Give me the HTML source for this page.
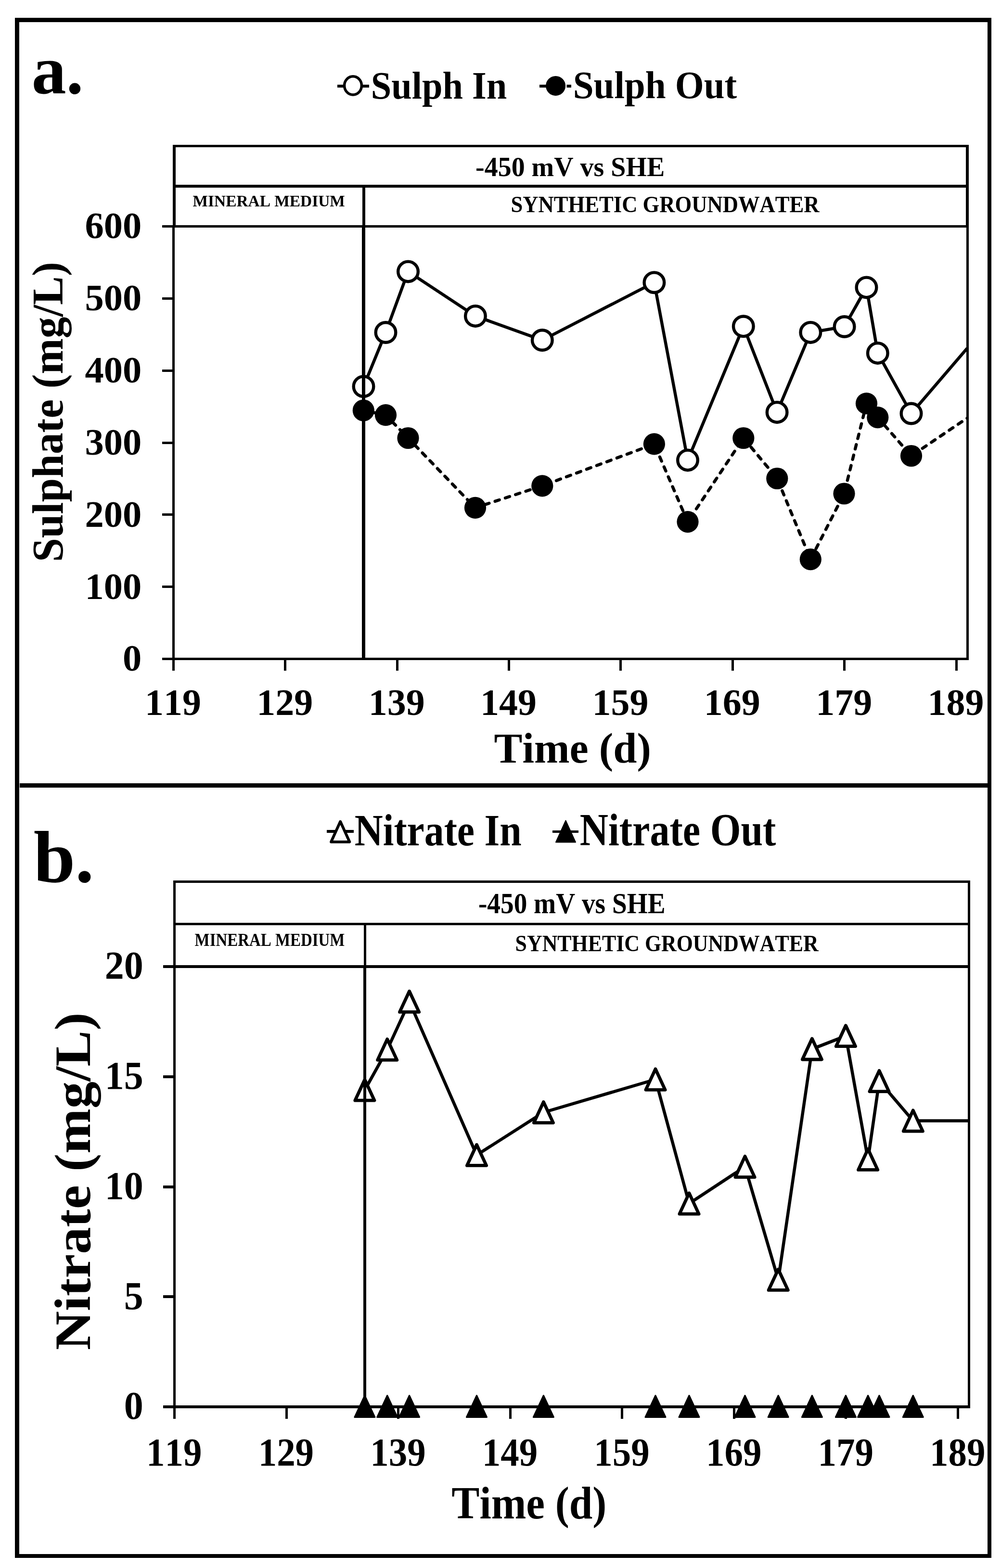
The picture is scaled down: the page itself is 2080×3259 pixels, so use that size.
<!DOCTYPE html>
<html><head><meta charset="utf-8"><title>Sulphate and Nitrate</title>
<style>html,body{margin:0;padding:0;background:#fff}svg{display:block}</style>
</head><body>
<svg width="2080" height="3259" viewBox="0 0 2080 3259">
<rect width="2080" height="3259" fill="#fff"/>
<g fill="#000" stroke="none">
<rect x="31" y="37" width="2029" height="9"/>
<rect x="31" y="3230" width="2029" height="8"/>
<rect x="31" y="37" width="9" height="3201"/>
<rect x="2052" y="37" width="8" height="3201"/>
<rect x="41" y="1628" width="2011" height="9"/>
<rect x="359" y="301" width="1654" height="5"/>
<rect x="359" y="301" width="6" height="169"/>
<rect x="2007" y="301" width="6" height="169"/>
<rect x="359" y="384" width="1654" height="6"/>
<rect x="753" y="387" width="6" height="83"/>
<rect x="337" y="468" width="1676" height="5"/>
<rect x="358" y="468" width="5" height="926"/>
<rect x="2008" y="468" width="5" height="904"/>
<rect x="337" y="1367" width="1676" height="5"/>
<rect x="337" y="1367" width="23" height="5"/>
<rect x="337" y="1217" width="23" height="5"/>
<rect x="337" y="1067" width="23" height="5"/>
<rect x="337" y="918" width="23" height="5"/>
<rect x="337" y="768" width="23" height="5"/>
<rect x="337" y="618" width="23" height="5"/>
<rect x="337" y="468" width="23" height="5"/>
<rect x="358" y="1369" width="5" height="25"/>
<rect x="590" y="1369" width="5" height="25"/>
<rect x="823" y="1369" width="5" height="25"/>
<rect x="1055" y="1369" width="5" height="25"/>
<rect x="1287" y="1369" width="5" height="25"/>
<rect x="1520" y="1369" width="5" height="25"/>
<rect x="1752" y="1369" width="5" height="25"/>
<rect x="1985" y="1369" width="5" height="25"/>
<rect x="360" y="1830" width="1656" height="5"/>
<rect x="360" y="1830" width="5" height="179"/>
<rect x="2011" y="1830" width="5" height="179"/>
<rect x="360" y="1918" width="1656" height="5"/>
<rect x="756" y="1920" width="5" height="89"/>
<rect x="339" y="2006" width="1677" height="6"/>
<rect x="360" y="2009" width="5" height="940"/>
<rect x="2011" y="2009" width="5" height="918"/>
<rect x="339" y="2921" width="1677" height="6"/>
<rect x="339" y="2921" width="23" height="6"/>
<rect x="339" y="2692" width="23" height="6"/>
<rect x="339" y="2464" width="23" height="6"/>
<rect x="339" y="2235" width="23" height="6"/>
<rect x="339" y="2006" width="23" height="6"/>
<rect x="360" y="2924" width="5" height="25"/>
<rect x="593" y="2924" width="5" height="25"/>
<rect x="825" y="2924" width="5" height="25"/>
<rect x="1058" y="2924" width="5" height="25"/>
<rect x="1290" y="2924" width="5" height="25"/>
<rect x="1523" y="2924" width="5" height="25"/>
<rect x="1755" y="2924" width="5" height="25"/>
<rect x="1988" y="2924" width="5" height="25"/>
</g>
<defs><clipPath id="ca"><rect x="363" y="473" width="1645" height="894"/></clipPath><clipPath id="cb"><rect x="365" y="2012" width="1646" height="909"/></clipPath></defs>
<g clip-path="url(#ca)">
<polyline points="755.5,803.2 801.5,691 848,564.4 987.9,656.9 1126.8,707 1359.4,587.2 1429,956.4 1544.8,678.3 1614.6,856.9 1684.3,690.9 1754.6,679 1800.5,597.4 1823.8,733.9 1893.5,859.5 2009.8,723.8" fill="none" stroke="#000" stroke-width="6.4" stroke-linejoin="round"/>
<polyline points="755.3,853 801.5,862.7 848,910.5 987.5,1055.4 1126.8,1009.8 1359.4,922.9 1429,1084.6 1544.8,910.5 1614.8,994.5 1684.3,1162.6 1754,1026 1800.5,838.6 1823.8,867.6 1893.5,947.5 2009.8,869" fill="none" stroke="#000" stroke-width="6.4" stroke-dasharray="9.4 13" stroke-linecap="round" stroke-linejoin="round"/>
</g>
<circle cx="755.5" cy="803.2" r="20.8" fill="#fff" stroke="#000" stroke-width="6.4"/>
<circle cx="801.5" cy="691" r="20.8" fill="#fff" stroke="#000" stroke-width="6.4"/>
<circle cx="848" cy="564.4" r="20.8" fill="#fff" stroke="#000" stroke-width="6.4"/>
<circle cx="987.9" cy="656.9" r="20.8" fill="#fff" stroke="#000" stroke-width="6.4"/>
<circle cx="1126.8" cy="707" r="20.8" fill="#fff" stroke="#000" stroke-width="6.4"/>
<circle cx="1359.4" cy="587.2" r="20.8" fill="#fff" stroke="#000" stroke-width="6.4"/>
<circle cx="1429" cy="956.4" r="20.8" fill="#fff" stroke="#000" stroke-width="6.4"/>
<circle cx="1544.8" cy="678.3" r="20.8" fill="#fff" stroke="#000" stroke-width="6.4"/>
<circle cx="1614.6" cy="856.9" r="20.8" fill="#fff" stroke="#000" stroke-width="6.4"/>
<circle cx="1684.3" cy="690.9" r="20.8" fill="#fff" stroke="#000" stroke-width="6.4"/>
<circle cx="1754.6" cy="679" r="20.8" fill="#fff" stroke="#000" stroke-width="6.4"/>
<circle cx="1800.5" cy="597.4" r="20.8" fill="#fff" stroke="#000" stroke-width="6.4"/>
<circle cx="1823.8" cy="733.9" r="20.8" fill="#fff" stroke="#000" stroke-width="6.4"/>
<circle cx="1893.5" cy="859.5" r="20.8" fill="#fff" stroke="#000" stroke-width="6.4"/>
<circle cx="755.3" cy="853" r="22.6" fill="#000"/>
<circle cx="801.5" cy="862.7" r="22.6" fill="#000"/>
<circle cx="848" cy="910.5" r="22.6" fill="#000"/>
<circle cx="987.5" cy="1055.4" r="22.6" fill="#000"/>
<circle cx="1126.8" cy="1009.8" r="22.6" fill="#000"/>
<circle cx="1359.4" cy="922.9" r="22.6" fill="#000"/>
<circle cx="1429" cy="1084.6" r="22.6" fill="#000"/>
<circle cx="1544.8" cy="910.5" r="22.6" fill="#000"/>
<circle cx="1614.8" cy="994.5" r="22.6" fill="#000"/>
<circle cx="1684.3" cy="1162.6" r="22.6" fill="#000"/>
<circle cx="1754" cy="1026" r="22.6" fill="#000"/>
<circle cx="1800.5" cy="838.6" r="22.6" fill="#000"/>
<circle cx="1823.8" cy="867.6" r="22.6" fill="#000"/>
<circle cx="1893.5" cy="947.5" r="22.6" fill="#000"/>
<polyline points="757.9,2265.6 804.7,2181.5 850.6,2081.8 990.5,2400.8 1129.4,2312 1362,2243.5 1432,2501.5 1548,2425 1617.2,2659.8 1687.4,2180.4 1757.4,2153.1 1803.6,2409.8 1827,2247 1897.3,2329.5 2011,2329.5" fill="none" stroke="#000" stroke-width="6.5" stroke-linejoin="round"/>
<polygon points="757.90,2244.00 778.00,2287.20 737.80,2287.20" fill="#fff" stroke="#000" stroke-width="6.8" stroke-linejoin="round"/>
<polygon points="804.70,2159.90 824.80,2203.10 784.60,2203.10" fill="#fff" stroke="#000" stroke-width="6.8" stroke-linejoin="round"/>
<polygon points="850.60,2060.20 870.70,2103.40 830.50,2103.40" fill="#fff" stroke="#000" stroke-width="6.8" stroke-linejoin="round"/>
<polygon points="990.50,2379.20 1010.60,2422.40 970.40,2422.40" fill="#fff" stroke="#000" stroke-width="6.8" stroke-linejoin="round"/>
<polygon points="1129.40,2290.40 1149.50,2333.60 1109.30,2333.60" fill="#fff" stroke="#000" stroke-width="6.8" stroke-linejoin="round"/>
<polygon points="1362.00,2221.90 1382.10,2265.10 1341.90,2265.10" fill="#fff" stroke="#000" stroke-width="6.8" stroke-linejoin="round"/>
<polygon points="1432.00,2479.90 1452.10,2523.10 1411.90,2523.10" fill="#fff" stroke="#000" stroke-width="6.8" stroke-linejoin="round"/>
<polygon points="1548.00,2403.40 1568.10,2446.60 1527.90,2446.60" fill="#fff" stroke="#000" stroke-width="6.8" stroke-linejoin="round"/>
<polygon points="1617.20,2638.20 1637.30,2681.40 1597.10,2681.40" fill="#fff" stroke="#000" stroke-width="6.8" stroke-linejoin="round"/>
<polygon points="1687.40,2158.80 1707.50,2202.00 1667.30,2202.00" fill="#fff" stroke="#000" stroke-width="6.8" stroke-linejoin="round"/>
<polygon points="1757.40,2131.50 1777.50,2174.70 1737.30,2174.70" fill="#fff" stroke="#000" stroke-width="6.8" stroke-linejoin="round"/>
<polygon points="1803.60,2388.20 1823.70,2431.40 1783.50,2431.40" fill="#fff" stroke="#000" stroke-width="6.8" stroke-linejoin="round"/>
<polygon points="1827.00,2225.40 1847.10,2268.60 1806.90,2268.60" fill="#fff" stroke="#000" stroke-width="6.8" stroke-linejoin="round"/>
<polygon points="1897.30,2307.90 1917.40,2351.10 1877.20,2351.10" fill="#fff" stroke="#000" stroke-width="6.8" stroke-linejoin="round"/>
<polygon points="757.90,2900.50 778.90,2945.50 736.90,2945.50" fill="#000" stroke="#000" stroke-width="3" stroke-linejoin="round"/>
<polygon points="804.70,2900.50 825.70,2945.50 783.70,2945.50" fill="#000" stroke="#000" stroke-width="3" stroke-linejoin="round"/>
<polygon points="850.60,2900.50 871.60,2945.50 829.60,2945.50" fill="#000" stroke="#000" stroke-width="3" stroke-linejoin="round"/>
<polygon points="990.50,2900.50 1011.50,2945.50 969.50,2945.50" fill="#000" stroke="#000" stroke-width="3" stroke-linejoin="round"/>
<polygon points="1129.40,2900.50 1150.40,2945.50 1108.40,2945.50" fill="#000" stroke="#000" stroke-width="3" stroke-linejoin="round"/>
<polygon points="1362.00,2900.50 1383.00,2945.50 1341.00,2945.50" fill="#000" stroke="#000" stroke-width="3" stroke-linejoin="round"/>
<polygon points="1432.00,2900.50 1453.00,2945.50 1411.00,2945.50" fill="#000" stroke="#000" stroke-width="3" stroke-linejoin="round"/>
<polygon points="1548.00,2900.50 1569.00,2945.50 1527.00,2945.50" fill="#000" stroke="#000" stroke-width="3" stroke-linejoin="round"/>
<polygon points="1617.20,2900.50 1638.20,2945.50 1596.20,2945.50" fill="#000" stroke="#000" stroke-width="3" stroke-linejoin="round"/>
<polygon points="1687.40,2900.50 1708.40,2945.50 1666.40,2945.50" fill="#000" stroke="#000" stroke-width="3" stroke-linejoin="round"/>
<polygon points="1757.40,2900.50 1778.40,2945.50 1736.40,2945.50" fill="#000" stroke="#000" stroke-width="3" stroke-linejoin="round"/>
<polygon points="1803.60,2900.50 1824.60,2945.50 1782.60,2945.50" fill="#000" stroke="#000" stroke-width="3" stroke-linejoin="round"/>
<polygon points="1827.00,2900.50 1848.00,2945.50 1806.00,2945.50" fill="#000" stroke="#000" stroke-width="3" stroke-linejoin="round"/>
<polygon points="1897.30,2900.50 1918.30,2945.50 1876.30,2945.50" fill="#000" stroke="#000" stroke-width="3" stroke-linejoin="round"/>
<g fill="#000">
<rect x="752" y="470" width="7" height="902"/>
<rect x="755" y="2009" width="6" height="918"/>
</g>
<g stroke="#000">
<line x1="701" y1="179" x2="767" y2="179" stroke-width="6"/>
<ellipse cx="733.5" cy="177.9" rx="17.9" ry="19.1" fill="#fff" stroke-width="5.5"/>
<line x1="1121" y1="179" x2="1140" y2="179" stroke-width="6"/>
<line x1="1177.5" y1="179" x2="1187" y2="179" stroke-width="6"/>
<circle cx="1154.6" cy="178.4" r="20.5" fill="#000" stroke="none"/>
<line x1="679" y1="1728" x2="735" y2="1728" stroke-width="6"/>
<polygon points="707.20,1707.50 726.40,1749.80 688.00,1749.80" fill="#fff" stroke-width="5.7" stroke-linejoin="round"/>
<line x1="1148" y1="1728.4" x2="1202" y2="1728.4" stroke-width="5"/>
<polygon points="1175.50,1705.50 1196.00,1750.50 1155.00,1750.50" fill="#000" stroke-width="2" stroke-linejoin="round"/>
</g>
<g font-family="'Liberation Serif', 'Times New Roman', serif" font-weight="bold" fill="#000" style="font-kerning:none">
<text transform="translate(65.69,193.84) scale(1,1.0044)" font-size="143.70">a.</text>
<text transform="translate(770.80,205.00) scale(1,1.0431)" font-size="76.41">Sulph In</text>
<text transform="translate(1190.76,204.00) scale(1,1.0343)" font-size="77.06">Sulph Out</text>
<text transform="translate(988.04,365.80) scale(1,1.0049)" font-size="55.97">-450 mV vs SHE</text>
<text transform="translate(400.50,429.00) scale(1,0.9979)" font-size="33.40">MINERAL MEDIUM</text>
<text transform="translate(1061.54,440.70) scale(1,1.0760)" font-size="44.64">SYNTHETIC GROUNDWATER</text>
<text x="294.14" y="1394.40" font-size="78.5" text-anchor="end">0</text>
<text x="294.14" y="1244.57" font-size="78.5" text-anchor="end">100</text>
<text x="294.14" y="1094.73" font-size="78.5" text-anchor="end">200</text>
<text x="294.14" y="944.90" font-size="78.5" text-anchor="end">300</text>
<text x="294.14" y="795.07" font-size="78.5" text-anchor="end">400</text>
<text x="294.14" y="645.23" font-size="78.5" text-anchor="end">500</text>
<text x="294.14" y="495.40" font-size="78.5" text-anchor="end">600</text>
<text x="359.50" y="1485.9" font-size="78" text-anchor="middle">119</text>
<text x="591.86" y="1485.9" font-size="78" text-anchor="middle">129</text>
<text x="824.22" y="1485.9" font-size="78" text-anchor="middle">139</text>
<text x="1056.58" y="1485.9" font-size="78" text-anchor="middle">149</text>
<text x="1288.94" y="1485.9" font-size="78" text-anchor="middle">159</text>
<text x="1521.30" y="1485.9" font-size="78" text-anchor="middle">169</text>
<text x="1753.66" y="1485.9" font-size="78" text-anchor="middle">179</text>
<text x="1986.02" y="1485.9" font-size="78" text-anchor="middle">189</text>
<text transform="translate(1026.47,1584.60) scale(1,1.0056)" font-size="88.36">Time (d)</text>
<text transform="translate(130.00,1167.92) rotate(-90) scale(1,1.0070)" font-size="89.45">Sulphate (mg/L)</text>
<text transform="translate(69.66,1832.50) scale(1,0.9749)" font-size="155.70">b.</text>
<text transform="translate(736.77,1756.50) scale(1,1.1498)" font-size="81.66">Nitrate In</text>
<text transform="translate(1204.66,1757.00) scale(1,1.1500)" font-size="82.04">Nitrate Out</text>
<text transform="translate(993.96,1898.40) scale(1,1.0907)" font-size="55.29">-450 mV vs SHE</text>
<text transform="translate(404.61,1965.50) scale(1,1.1324)" font-size="32.92">MINERAL MEDIUM</text>
<text transform="translate(1070.59,1976.50) scale(1,1.1225)" font-size="43.87">SYNTHETIC GROUNDWATER</text>
<text transform="translate(297.70,2949.30) scale(1,1.035)" font-size="80" text-anchor="end">0</text>
<text transform="translate(297.70,2720.55) scale(1,1.035)" font-size="80" text-anchor="end">5</text>
<text transform="translate(297.70,2491.80) scale(1,1.035)" font-size="80" text-anchor="end">10</text>
<text transform="translate(297.70,2263.05) scale(1,1.035)" font-size="80" text-anchor="end">15</text>
<text transform="translate(297.70,2034.30) scale(1,1.035)" font-size="80" text-anchor="end">20</text>
<text transform="translate(361.80,3046.3) scale(1,1.07)" font-size="77" text-anchor="middle">119</text>
<text transform="translate(594.37,3046.3) scale(1,1.07)" font-size="77" text-anchor="middle">129</text>
<text transform="translate(826.94,3046.3) scale(1,1.07)" font-size="77" text-anchor="middle">139</text>
<text transform="translate(1059.51,3046.3) scale(1,1.07)" font-size="77" text-anchor="middle">149</text>
<text transform="translate(1292.08,3046.3) scale(1,1.07)" font-size="77" text-anchor="middle">159</text>
<text transform="translate(1524.65,3046.3) scale(1,1.07)" font-size="77" text-anchor="middle">169</text>
<text transform="translate(1757.22,3046.3) scale(1,1.07)" font-size="77" text-anchor="middle">179</text>
<text transform="translate(1989.79,3046.3) scale(1,1.07)" font-size="77" text-anchor="middle">189</text>
<text transform="translate(938.29,3156.00) scale(1,1.0854)" font-size="87.21">Time (d)</text>
<text transform="translate(186.90,2806.25) rotate(-90) scale(1,0.9470)" font-size="112.37">Nitrate (mg/L)</text>
</g>
</svg>
</body></html>
